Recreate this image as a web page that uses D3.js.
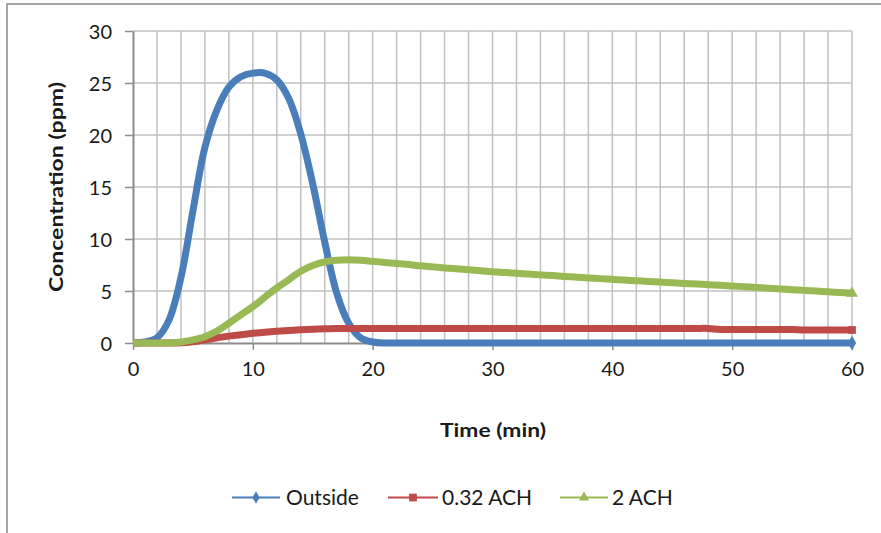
<!DOCTYPE html>
<html>
<head>
<meta charset="utf-8">
<script src="https://cdn.jsdelivr.net/npm/d3@7"></script>
<style>
  html, body { margin: 0; padding: 0; background: #ffffff; }
  svg { display: block; }
  text { font-family: Lato, "Open Sans", sans-serif; fill: #1a1a1a; }
</style>
</head>
<body>
<svg id="chart" width="881" height="533"></svg>
<script>
// ---- Data ----
const times = d3.range(0, 61); // minutes 0..60
const outside = [0, 0.1, 0.5, 2.2, 6.3, 12.7, 18.8, 22.4, 24.6, 25.6, 25.95, 25.95, 25.3, 23.5, 20.1, 15.3, 9.7, 4.8, 1.9, 0.5, 0.1,
  0, 0, 0, 0, 0, 0, 0, 0, 0, 0, 0, 0, 0, 0, 0, 0, 0, 0, 0, 0,
  0, 0, 0, 0, 0, 0, 0, 0, 0, 0, 0, 0, 0, 0, 0, 0, 0, 0, 0, 0];
const ach032 = [0, 0, 0, 0, 0.02, 0.12, 0.3, 0.5, 0.66, 0.8, 0.93, 1.04, 1.13, 1.21, 1.28, 1.33, 1.37, 1.39, 1.4, 1.4, 1.4,
  1.4, 1.4, 1.4, 1.4, 1.4, 1.4, 1.4, 1.4, 1.4, 1.4, 1.4, 1.4, 1.4, 1.4, 1.4, 1.4, 1.4, 1.4, 1.4, 1.4,
  1.4, 1.4, 1.4, 1.4, 1.4, 1.4, 1.4, 1.4, 1.3, 1.3, 1.3, 1.3, 1.3, 1.3, 1.3, 1.25, 1.25, 1.25, 1.25, 1.25];
const ach2 = [0, 0, 0, 0.02, 0.1, 0.3, 0.6, 1.15, 1.9, 2.7, 3.5, 4.4, 5.3, 6.1, 6.9, 7.45, 7.8, 7.95, 8.0, 7.95, 7.85,
  7.75, 7.65, 7.55, 7.42, 7.32, 7.22, 7.13, 7.04, 6.95, 6.86, 6.78, 6.7, 6.63, 6.55, 6.48, 6.4, 6.33, 6.26, 6.19, 6.12,
  6.05, 5.99, 5.92, 5.86, 5.79, 5.73, 5.67, 5.61, 5.55, 5.48, 5.41, 5.34, 5.27, 5.2, 5.13, 5.06, 4.99, 4.92, 4.85, 4.78];
const seriesNames = ["Outside", "0.32 ACH", "2 ACH"];
const seriesColors = ["#4a7ebb", "#be4b48", "#98b954"];
const seriesSymbols = [d3.symbolDiamond, d3.symbolSquare, d3.symbolTriangle];
const seriesValues = [outside, ach032, ach2];
const xTicks = [0, 10, 20, 30, 40, 50, 60];
const yTicks = [0, 5, 10, 15, 20, 25, 30];
const xTitle = "Time (min)";
const yTitle = "Concentration (ppm)";

// ---- Layout ----
const svg = d3.select("#chart");
const x = d3.scaleLinear().domain([0, 60]).range([133, 852]);
const y = d3.scaleLinear().domain([0, 30]).range([343, 31]);

// chart outer border (cropped at right/bottom)
svg.append("rect")
  .attr("x", 7).attr("y", 4).attr("width", 900).attr("height", 560)
  .attr("fill", "#ffffff").attr("stroke", "#a6a6a6").attr("stroke-width", 2);

// gridlines
const grid = svg.append("g");
grid.selectAll("line.v").data(d3.range(2, 61, 2)).join("line")
  .attr("x1", d => x(d)).attr("x2", d => x(d))
  .attr("y1", y(30)).attr("y2", y(0))
  .attr("stroke", "#c0c0c0").attr("stroke-width", 1.5);
grid.selectAll("line.h").data(d3.range(5, 31, 5)).join("line")
  .attr("x1", x(0)).attr("x2", x(60))
  .attr("y1", d => y(d)).attr("y2", d => y(d))
  .attr("stroke", "#c0c0c0").attr("stroke-width", 1.5);

// axes
const xAxis = d3.axisBottom(x).tickValues(xTicks).tickSize(7).tickPadding(12).tickSizeOuter(0);
const yAxis = d3.axisLeft(y).tickValues(yTicks).tickSize(8).tickPadding(13).tickSizeOuter(0);

const gx = svg.append("g").attr("transform", `translate(0,${y(0)})`).call(xAxis);
const gy = svg.append("g").attr("transform", `translate(${x(0)},0)`).call(yAxis);
[gx, gy].forEach(g => {
  g.select(".domain").attr("stroke", "#8c8c8c").attr("stroke-width", 2);
  g.selectAll(".tick line").attr("stroke", "#8c8c8c").attr("stroke-width", 1.5);
  g.selectAll(".tick text").style("font-family", "Lato, sans-serif").style("font-size", "20px").attr("fill", "#1a1a1a");
});
gy.selectAll(".tick text").attr("dy", "0.35em");

// axis titles
svg.append("text")
  .attr("x", 493).attr("y", 437)
  .attr("text-anchor", "middle")
  .attr("textLength", 106).attr("lengthAdjust", "spacingAndGlyphs")
  .style("font-size", "19px").style("font-weight", "bold")
  .text(xTitle);
svg.append("text")
  .attr("transform", "translate(63,187) rotate(-90)")
  .attr("text-anchor", "middle")
  .attr("textLength", 210).attr("lengthAdjust", "spacingAndGlyphs")
  .style("font-size", "19px").style("font-weight", "bold")
  .text(yTitle);

// series lines
const line = d3.line()
  .x((d, i) => x(times[i]))
  .y(d => y(d))
  .curve(d3.curveCatmullRom.alpha(0.5));

seriesValues.forEach((vals, k) => {
  svg.append("path")
    .datum(vals)
    .attr("d", line)
    .attr("fill", "none")
    .attr("stroke", seriesColors[k])
    .attr("stroke-width", 7)
    .attr("stroke-linejoin", "round");
  svg.append("path")
    .attr("transform", `translate(${x(times[times.length - 1])},${y(vals[vals.length - 1])})`)
    .attr("d", d3.symbol().type(seriesSymbols[k]).size(60)())
    .attr("fill", seriesColors[k]);
});

// legend
const legendItems = [
  { x1: 232, x2: 280, tx: 286 },
  { x1: 388, x2: 438, tx: 442 },
  { x1: 560, x2: 608, tx: 612 }
];
const ly = 497.5;
legendItems.forEach((it, k) => {
  const g = svg.append("g");
  g.append("line")
    .attr("x1", it.x1).attr("x2", it.x2).attr("y1", ly).attr("y2", ly)
    .attr("stroke", seriesColors[k]).attr("stroke-width", 2);
  g.append("path")
    .attr("transform", `translate(${(it.x1 + it.x2) / 2},${ly})`)
    .attr("d", d3.symbol().type(seriesSymbols[k]).size(k === 1 ? 60 : 45)())
    .attr("fill", seriesColors[k]);
  g.append("text")
    .attr("x", it.tx).attr("y", ly + 7.5)
    .style("font-size", "21px")
    .text(seriesNames[k]);
});
</script>
</body>
</html>
